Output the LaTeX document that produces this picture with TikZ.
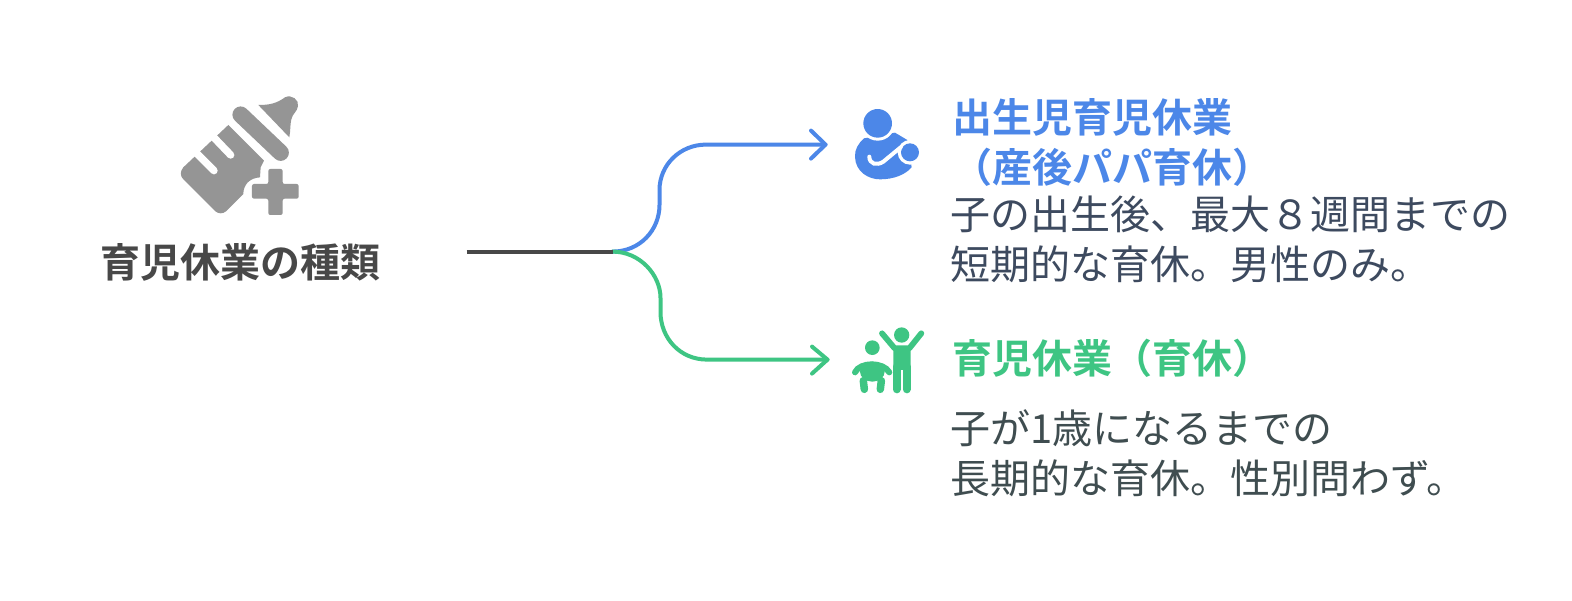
\documentclass[tikz,border=0pt]{standalone}
\usepackage{fontspec}
\setmainfont{Noto Sans CJK JP}[BoldFont={Noto Sans CJK JP Bold}]
\definecolor{cblue}{HTML}{4C87E8}
\definecolor{cgreen}{HTML}{3EC583}
\definecolor{cdark}{HTML}{484848}
\definecolor{cgray}{HTML}{959595}
\definecolor{cslateA}{HTML}{3D4A5F}
\definecolor{cslateB}{HTML}{3F4D50}
\tikzset{
  x=1pt,y=-1pt,
  conn/.style={line width=4pt,line cap=round,line join=round},
  blk/.style={anchor=west,inner sep=0pt,align=left,font=\fontsize{40}{50}\selectfont},
  zoomed/.style={x=0.3333pt,y=-0.3333pt},
}
\begin{document}
\begin{tikzpicture}
\useasboundingbox (0,0) rectangle (1572,600);
\fill[white] (0,0) rectangle (1572,600);
% bottle icon
\begin{scope}[shift={(160,80)},zoomed]
  \fill[cgray] (205,135) -- (312,242) -- (302,262) -- (300,292) .. controls (268,294) and (250,315) .. (250,342) -- (198,394) .. controls (188,402) and (176,402) .. (166,394) -- (70,298) .. controls (60,288) and (60,274) .. (70,262) -- cycle;
  \draw[white,line width=7.4pt,line cap=round] (95,205) -- (162,272);
  \draw[white,line width=7.4pt,line cap=round] (145,155) -- (212,225);
  \draw[cgray,line width=16.5pt,line cap=round] (242,104) -- (362,218);
  \fill[cgray] (295,75) .. controls (330,75) and (350,70) .. (375,52) .. controls (395,42) and (418,60) .. (414,78) .. controls (412,95) and (398,100) .. (394,118) .. controls (390,135) and (392,150) .. (388,172) -- cycle;
  \fill[cgray,rounded corners=2pt] (325,267) -- (368,267) -- (368,312) -- (416,312) -- (416,356) -- (368,356) -- (368,405) -- (325,405) -- (325,356) -- (276,356) -- (276,312) -- (325,312) -- cycle;
\end{scope}
\node[inner sep=0pt,font=\fontsize{40}{48}\selectfont\bfseries,text=cdark] (root) at (240.5,262) {育児休業の種類};
\coordinate (start) at (466.5,251.6);
\coordinate (fork) at (612.5,251.6);
\coordinate (tipA) at (825.5,144.6);
\coordinate (tipB) at (827.5,359.6);
\draw[conn,cblue] (fork) .. controls (640,251.6) and (659.5,230) .. (659.5,205) -- (659.5,190) .. controls (659.5,165) and (680,144.6) .. (706,144.6) -- (tipA);
\draw[conn,cblue] (811,130.6) -- (tipA) -- (811,158.6);
\draw[conn,cgreen] (fork) .. controls (640,251.6) and (660.5,275) .. (660.5,298) -- (660.5,312) .. controls (660.5,338) and (680,359.6) .. (707,359.6) -- (tipB);
\draw[conn,cgreen] (812,346.6) -- (tipB) -- (812,373.6);
\draw[cdark,line width=3.8pt] (start) -- (fork);
% mother icon
\begin{scope}[shift={(830,90)},zoomed]
  \fill[cblue] (102,145) .. controls (85,160) and (74,178) .. (75,200) .. controls (76,245) and (115,268) .. (150,268) .. controls (190,268) and (225,255) .. (245,232) -- (232,150) -- (195,128) -- cycle;
  \fill[white] (143,100) circle[radius=52];
  \fill[cblue] (143,100) circle[radius=43];
  \fill[white] (240,187) circle[radius=37];
  \fill[white] (250,120) rectangle (290,260);
  \fill[cblue] (240,187) circle[radius=27];
  \draw[white,line width=4pt,line cap=round] (118,200) .. controls (118,222) and (140,228) .. (160,215) -- (212,172);
\end{scope}
% parent and child icon
\begin{scope}[shift={(830,310)},zoomed,cgreen]
  \fill (215,75) circle[radius=23];
  \fill[rounded corners=3pt] (190,108) -- (242,108) -- (242,180) -- (190,180) -- cycle;
  \draw[line width=5.8pt,line cap=round,line join=round] (156,70) -- (194,115) -- (238,115) -- (274,70);
  \draw[line width=8pt,line cap=round] (200,170) -- (200,238);
  \draw[line width=8pt,line cap=round] (230,170) -- (230,238);
  \fill (127,113) circle[radius=22];
  \draw[line width=6pt,line cap=round] (75,187) .. controls (90,155) and (160,155) .. (178,187);
  \fill (127,185) ellipse[x radius=37,y radius=30];
  \draw[line width=7.5pt,line cap=round] (100,212) -- (103,238);
  \draw[line width=7.5pt,line cap=round] (154,212) -- (151,238);
  \fill[white] (127,252) ellipse[x radius=9,y radius=30];
\end{scope}
% texts
\node[blk,text=cblue,font=\fontsize{40}{50}\selectfont\bfseries] (headA) at (952,142) {出生児育児休業\\（産後パパ育休）};
\node[blk,text=cslateA] (bodyA) at (950,239) {子の出生後、最大８週間までの\\短期的な育休。男性のみ。};
\node[blk,text=cgreen,font=\fontsize{40}{50}\selectfont\bfseries] (headB) at (952,358) {育児休業（育休）};
\node[blk,text=cslateB] (bodyB) at (950,453) {子が1歳になるまでの\\長期的な育休。性別問わず。};
\end{tikzpicture}
\end{document}
